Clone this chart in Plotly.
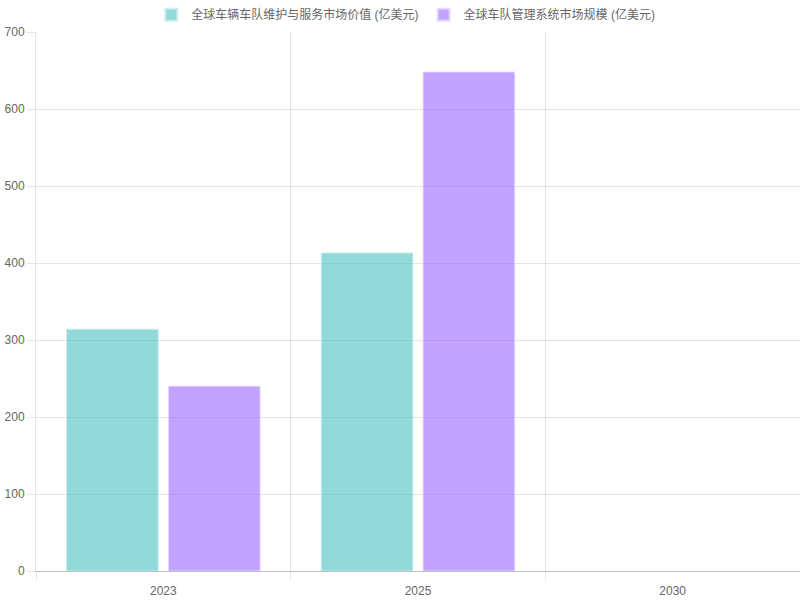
import plotly.graph_objects as go

years = ["2023", "2025", "2030"]
maint_values = [314, 413, None]
fms_values = [240, 648, None]
series_names = ["全球车辆车队维护与服务市场价值 (亿美元)", "全球车队管理系统市场规模 (亿美元)"]
y_ticks = [0, 100, 200, 300, 400, 500, 600, 700]

fig = go.Figure()
fig.add_trace(go.Bar(
    x=years, y=maint_values, name=series_names[0],
    marker=dict(color="rgba(75,192,192,0.6)", line=dict(color="rgba(200,240,240,0.9)", width=1)),
))
fig.add_trace(go.Bar(
    x=years, y=fms_values, name=series_names[1],
    marker=dict(color="rgba(153,102,255,0.6)", line=dict(color="rgba(230,215,255,0.9)", width=1)),
))

font_family = "Liberation Sans, Arial, Noto Sans CJK SC, sans-serif"
fig.update_layout(
    width=800, height=600,
    margin=dict(l=36, r=0, t=32, b=29),
    paper_bgcolor="white", plot_bgcolor="white",
    barmode="group", bargap=0.2, bargroupgap=0.1,
    font=dict(family=font_family, size=12, color="#666"),
    showlegend=True,
    legend=dict(orientation="h", x=0.484, xanchor="center", y=1.005, yanchor="bottom",
                font=dict(size=12, color="#666"), itemsizing="constant",
                bgcolor="rgba(0,0,0,0)"),
    xaxis=dict(
        type="category", tickson="boundaries", ticks="outside", ticklen=8,
        tickcolor="rgba(0,0,0,0.1)", showgrid=True, gridcolor="rgba(0,0,0,0.1)",
        showline=True, linecolor="rgba(0,0,0,0.25)", linewidth=1,
        tickfont=dict(size=12, color="#666"), ticklabelstandoff=9, fixedrange=True,
    ),
    yaxis=dict(
        range=[0, 700], tickvals=y_ticks, ticks="outside", ticklen=8,
        tickcolor="rgba(0,0,0,0.1)", showgrid=True, gridcolor="rgba(0,0,0,0.1)",
        showline=True, linecolor="rgba(0,0,0,0.1)", zeroline=False,
        tickfont=dict(size=12, color="#666"), fixedrange=True,
    ),
)

fig.write_html("out.html")
